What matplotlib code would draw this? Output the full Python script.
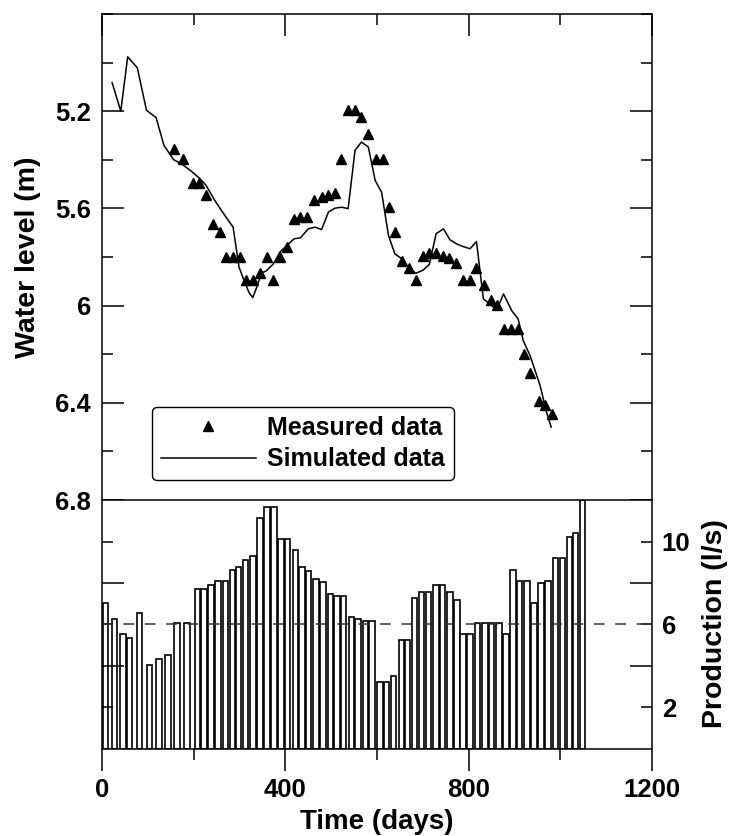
import matplotlib
matplotlib.use("Agg")
import matplotlib.pyplot as plt
from matplotlib.ticker import FuncFormatter

plt.rcParams['font.family'] = ['Liberation Sans', 'DejaVu Sans']
plt.rcParams['font.weight'] = 'bold'

# simulated water level (m) vs time (days)
sim_days = [22, 41, 56, 77, 97, 118, 135, 156, 176, 195, 214, 227, 246, 268, 286, 299,
            310, 321, 329, 338, 348, 358, 374, 388, 403, 419, 433, 450, 465, 479, 494,
            508, 523, 537, 552, 566, 581, 596, 610, 625, 639, 654, 668, 685, 701, 714,
            729, 745, 759, 774, 788, 803, 817, 832, 846, 861, 876, 894, 908, 919, 934,
            956, 969, 980]
sim_level = [5.082, 5.200, 4.976, 5.021, 5.196, 5.226, 5.340, 5.399, 5.420, 5.447, 5.478,
             5.505, 5.567, 5.629, 5.677, 5.842, 5.897, 5.947, 5.967, 5.922, 5.865, 5.858,
             5.828, 5.780, 5.753, 5.725, 5.721, 5.684, 5.677, 5.687, 5.615, 5.599, 5.595,
             5.601, 5.361, 5.327, 5.347, 5.485, 5.533, 5.711, 5.787, 5.807, 5.842, 5.867,
             5.853, 5.831, 5.704, 5.684, 5.729, 5.746, 5.757, 5.766, 5.736, 5.972, 5.993,
             6.018, 5.952, 6.021, 6.055, 6.144, 6.206, 6.330, 6.433, 6.500]

# measured water level
meas_days = [156, 177, 198, 212, 227, 243, 257, 270, 286, 301, 314, 329, 345, 359, 374,
             388, 404, 419, 433, 448, 462, 479, 494, 508, 522, 536, 552, 566, 581, 597,
             612, 627, 639, 654, 670, 685, 700, 714, 729, 743, 758, 772, 787, 803, 817,
             833, 848, 862, 877, 892, 908, 921, 934, 953, 966, 982]
meas_level = [5.354, 5.395, 5.496, 5.496, 5.544, 5.666, 5.698, 5.798, 5.798, 5.798, 5.894,
              5.894, 5.865, 5.798, 5.894, 5.798, 5.757, 5.645, 5.636, 5.636, 5.564, 5.553,
              5.546, 5.537, 5.395, 5.193, 5.193, 5.223, 5.292, 5.395, 5.395, 5.595, 5.695,
              5.815, 5.846, 5.894, 5.794, 5.784, 5.784, 5.794, 5.803, 5.826, 5.894, 5.894,
              5.846, 5.915, 5.975, 5.997, 6.096, 6.096, 6.096, 6.198, 6.276, 6.392, 6.408,
              6.445]

# production (l/s)
prod_days = [8, 27, 46, 60, 82, 104, 124, 144, 164, 185, 208, 222, 238, 253, 269, 285,
             298, 313, 329, 345, 360, 375, 391, 405, 422, 436, 451, 467, 482, 498, 513,
             527, 544, 559, 575, 589, 606, 621, 636, 653, 666, 682, 697, 712, 729, 743,
             759, 774, 788, 803, 819, 836, 850, 866, 881, 897, 911, 927, 943, 958, 973,
             989, 1005, 1020, 1033, 1048]
prod_rate = [7.05, 6.27, 5.55, 5.34, 6.56, 4.03, 4.32, 4.55, 6.05, 6.05, 7.69, 7.69, 7.89,
             8.09, 8.09, 8.61, 8.79, 9.11, 9.30, 11.13, 11.64, 11.64, 10.11, 10.11, 9.59,
             8.79, 8.60, 8.18, 8.06, 7.48, 7.37, 7.37, 6.37, 6.27, 6.16, 6.16, 3.21, 3.21,
             3.50, 5.24, 5.24, 7.29, 7.56, 7.56, 7.89, 7.89, 7.56, 7.18, 5.53, 5.53, 6.05,
             6.05, 6.05, 6.05, 5.53, 8.61, 8.09, 8.09, 7.05, 7.98, 8.09, 9.19, 9.19, 10.22,
             10.43, 12.0]

fig = plt.figure(figsize=(7.36, 8.36), dpi=100)
ax1 = fig.add_axes([0.1386, 0.4019, 0.7473, 0.5813])
ax2 = fig.add_axes([0.1386, 0.1041, 0.7473, 0.2978])

# top panel
meas, = ax1.plot(meas_days, meas_level, '^', color='black', ms=7.5, ls='none',
                 label='Measured data')
sim, = ax1.plot(sim_days, sim_level, color='black', lw=1.1, label='Simulated data')
ax1.set_xlim(0, 1200)
ax1.set_ylim(6.8, 4.8)
ax1.set_xticks([0, 400, 800, 1200])
ax1.set_xticks([200, 600, 1000], minor=True)
ax1.set_yticks([5.2, 5.6, 6.0, 6.4, 6.8])
ax1.set_yticks([4.8, 5.0, 5.4, 5.8, 6.2, 6.6], minor=True)
ax1.yaxis.set_major_formatter(FuncFormatter(lambda v, p: f'{v:g}'))
ax1.tick_params(which='both', direction='in', left=True, right=True, top=True,
                bottom=False, labelbottom=False, width=1.1, labelsize=18.5, pad=8)
ax1.tick_params(which='major', length=16)
ax1.tick_params(which='minor', length=8)
ax1.spines['bottom'].set_visible(False)
for s in ['left', 'right', 'top']:
    ax1.spines[s].set_linewidth(1.1)

leg = ax1.legend(handles=[meas, sim], loc='upper left',
                 bbox_to_anchor=(152 / 736, 1 - 407 / 836),
                 bbox_transform=fig.transFigure, borderaxespad=0,
                 fontsize=18, handlelength=3.8, handletextpad=0.45,
                 labelspacing=0.3, borderpad=0.35, fancybox=True,
                 framealpha=1, edgecolor='black', numpoints=1)
leg.get_frame().set_linewidth(1.0)

# bottom panel
ax2.bar(prod_days, prod_rate, width=12, color='white', edgecolor='black', lw=1.2)
ax2.axhline(6, ls=(0, (7, 7)), color='#333333', lw=1.1, zorder=3)
ax2.set_xlim(0, 1200)
ax2.set_ylim(0, 12)
ax2.set_xticks([0, 400, 800, 1200])
ax2.set_xticks([200, 600, 1000], minor=True)
ax2.set_yticks([2, 6, 10])
ax2.set_yticks([4, 8], minor=True)
ax2.tick_params(axis='x', which='both', direction='out', top=False, width=1.1,
                labelsize=18.5, pad=5)
ax2.tick_params(axis='x', which='major', length=16)
ax2.tick_params(axis='x', which='minor', length=8)
ax2.tick_params(axis='y', which='both', direction='in', left=True, right=True,
                labelleft=False, labelright=True, width=1.1, labelsize=18.5, pad=7)
ax2.tick_params(axis='y', which='major', length=8)
ax2.tick_params(axis='y', which='minor', length=16)
for s in ax2.spines.values():
    s.set_linewidth(1.1)

fig.text(28 / 736, 1 - 257 / 836, 'Water level (m)', rotation=90, ha='center',
         va='center', fontsize=20.5)
fig.text(715 / 736, 1 - 624 / 836, 'Production (l/s)', rotation=90, ha='center',
         va='center', fontsize=20.5)
fig.text(377 / 736, 1 - 822 / 836, 'Time (days)', ha='center', va='center', fontsize=20)

fig.savefig('out.png', dpi=100)
